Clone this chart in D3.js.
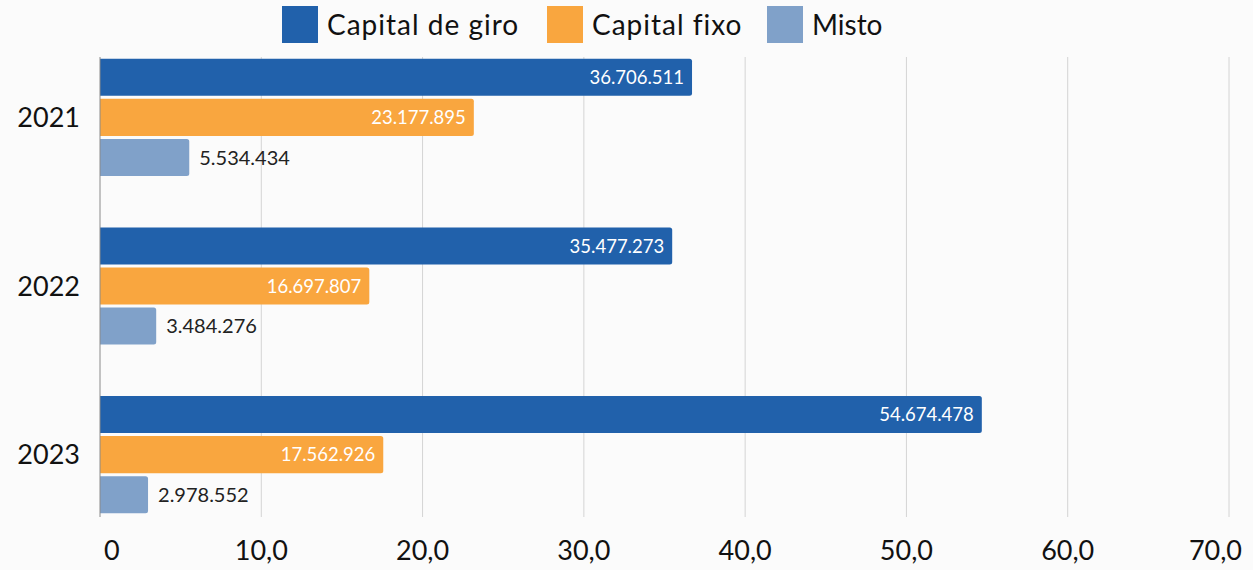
<!DOCTYPE html>
<html>
<head>
<meta charset="utf-8">
<script src="https://cdn.jsdelivr.net/npm/d3@7"></script>
<style>
  html, body { margin: 0; padding: 0; background: #fbfbfb; }
  svg { display: block; font-family: Lato, "Noto Sans", sans-serif; }
</style>
</head>
<body>
<script>
// data (valores em R$)
var years = ["2021", "2022", "2023"];
var seriesNames = ["Capital de giro", "Capital fixo", "Misto"];
var giro = [36706511, 35477273, 54674478];
var fixo = [23177895, 16697807, 17562926];
var misto = [5534434, 3484276, 2978552];
var ticks = [0, 10, 20, 30, 40, 50, 60, 70];

var colors = ["#2161ab", "#f9a63f", "#80a1c9"];
var w = 1253;
var h = 570;

var locale = d3.formatLocale({ decimal: ",", thousands: ".", grouping: [3], currency: ["R$", ""] });
var fmtVal = locale.format(",d");
var fmtTick = locale.format(",.1f");

var svg = d3.select("body").append("svg")
  .attr("width", w)
  .attr("height", h);

svg.append("rect").attr("width", w).attr("height", h).attr("fill", "#fbfbfb");

var x = d3.scaleLinear().domain([0, 70]).range([100, 1229]);

var y0 = d3.scaleBand().domain(years)
  .range([42, 530])
  .paddingInner(0.306)
  .paddingOuter(0.1);

var y1 = d3.scaleBand().domain(seriesNames)
  .range([0, y0.bandwidth()])
  .paddingInner(0.075);

// gridlines
svg.append("g").selectAll("line")
  .data(ticks.slice(1))
  .enter()
  .append("line")
  .attr("x1", function(d) { return x(d); })
  .attr("x2", function(d) { return x(d); })
  .attr("y1", 57)
  .attr("y2", 517)
  .attr("stroke", "#d4d4d4")
  .attr("stroke-width", 1);

// build table
var rows = [];
years.forEach(function(yr, i) {
  var vals = [giro[i], fixo[i], misto[i]];
  seriesNames.forEach(function(s, j) {
    rows.push({ year: yr, series: s, idx: j, value: vals[j] });
  });
});

var bars = svg.append("g").selectAll("g")
  .data(rows)
  .enter()
  .append("g");

bars.append("path")
  .attr("fill", function(d) { return colors[d.idx]; })
  .attr("d", function(d) {
    var x0 = x(0), x1 = x(d.value / 1e6);
    var top = y0(d.year) + y1(d.series), bh = y1.bandwidth(), r = 2.5;
    return "M" + x0 + "," + top + "H" + (x1 - r) +
      "Q" + x1 + "," + top + " " + x1 + "," + (top + r) +
      "V" + (top + bh - r) +
      "Q" + x1 + "," + (top + bh) + " " + (x1 - r) + "," + (top + bh) +
      "H" + x0 + "Z";
  });

bars.append("text")
  .attr("x", function(d) {
    return d.idx < 2 ? x(d.value / 1e6) - 8 : x(d.value / 1e6) + 10;
  })
  .attr("y", function(d) { return y0(d.year) + y1(d.series) + y1.bandwidth() / 2; })
  .attr("dy", "0.36em")
  .attr("text-anchor", function(d) { return d.idx < 2 ? "end" : "start"; })
  .attr("fill", function(d) { return d.idx < 2 ? "#ffffff" : "#222222"; })
  .style("font-size", function(d) { return d.idx < 2 ? "18.5px" : "20px"; })
  .text(function(d) { return fmtVal(d.value); });

// left axis line
svg.append("line")
  .attr("x1", x(0)).attr("x2", x(0))
  .attr("y1", 57).attr("y2", 517)
  .attr("stroke", "#8a8a8a")
  .attr("stroke-width", 1);

// year labels
svg.append("g").selectAll("text")
  .data(years)
  .enter()
  .append("text")
  .attr("x", 80)
  .attr("y", function(d) { return y0(d) + y0.bandwidth() / 2; })
  .attr("dy", "0.36em")
  .attr("text-anchor", "end")
  .attr("fill", "#111")
  .style("font-size", "27px")
  .text(function(d) { return d; });

// x tick labels
svg.append("g").selectAll("text")
  .data(ticks)
  .enter()
  .append("text")
  .attr("x", function(d, i) {
    if (i === 0) return x(d) + 4;
    if (i === ticks.length - 1) return x(d) + 13;
    return x(d);
  })
  .attr("y", 560)
  .attr("text-anchor", function(d, i) {
    if (i === 0) return "start";
    if (i === ticks.length - 1) return "end";
    return "middle";
  })
  .attr("fill", "#111")
  .style("font-size", "27px")
  .text(function(d) { return d === 0 ? "0" : fmtTick(d); });

// legend
var legendX = [282, 547, 767];
var legend = svg.append("g").selectAll("g")
  .data(seriesNames)
  .enter()
  .append("g")
  .attr("transform", function(d, i) { return "translate(" + legendX[i] + ",6)"; });

legend.append("rect")
  .attr("width", 36)
  .attr("height", 37)
  .attr("fill", function(d, i) { return colors[i]; });

legend.append("text")
  .attr("x", 45)
  .attr("y", 18.5)
  .attr("dy", "0.36em")
  .attr("fill", "#111")
  .style("font-size", "28px")
  .style("letter-spacing", function(d, i) { return i < 2 ? "1px" : "0px"; })
  .text(function(d) { return d; });
</script>
</body>
</html>
